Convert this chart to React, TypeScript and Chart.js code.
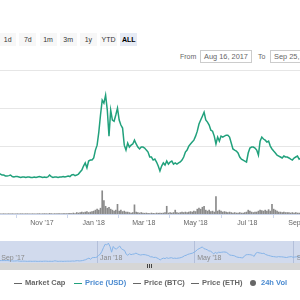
import React, { useEffect, useRef } from "react";
import { Chart, registerables } from "chart.js";

Chart.register(...registerables);

// ---- data ----
const START_DATE = "2017-09-03";
const STEP_DAYS = 2;

const priceUsd = [
  0.57, 0.57, 0.57, 0.57, 0.57, 0.57, 0.52, 0.52, 0.47, 0.47,
  0.49, 0.52, 0.44, 0.42, 0.44, 0.44, 0.42, 0.39, 0.42, 0.42,
  0.39, 0.42, 0.42, 0.39, 0.39, 0.42, 0.39, 0.42, 0.44, 0.42,
  0.39, 0.42, 0.39, 0.42, 0.52, 0.44, 0.39, 0.42, 0.42, 0.39,
  0.42, 0.42, 0.44, 0.42, 0.44, 0.47, 0.44, 0.52, 0.55, 0.49,
  0.52, 0.57, 0.68, 0.78, 0.99, 1.15, 0.89, 1.25, 1.3, 1.3,
  1.41, 1.82, 2.08, 2.76, 3.65, 4.43, 4.27, 4.69, 3.91, 2.55,
  3.91, 3.39, 3.33, 3.65, 4.01, 3.39, 3.13, 2.97, 2.08, 1.82,
  2.19, 1.98, 2.08, 2.14, 2.34, 2.14, 1.98, 1.88, 1.98, 1.98,
  1.93, 1.82, 1.72, 1.46, 1.46, 1.3, 1.35, 1.2, 0.99, 0.73,
  0.99, 1.15, 1.04, 1.25, 1.09, 1.2, 1.25, 1.09, 1.15, 1.09,
  1.15, 1.2, 1.3, 1.46, 1.72, 1.82, 2.03, 2.14, 2.24, 2.34,
  2.55, 2.81, 3.18, 3.39, 3.59, 3.8, 3.39, 3.28, 3.13, 2.86,
  2.81, 2.55, 2.14, 2.5, 2.29, 2.55, 2.5, 2.55, 2.6, 2.6,
  2.5, 2.19, 1.88, 1.82, 1.77, 1.67, 1.46, 1.35, 1.3, 1.25,
  1.2, 1.67, 1.93, 1.98, 1.98, 1.93, 1.82, 1.56, 2.29, 2.5,
  2.4, 2.34, 2.24, 2.29, 2.03, 1.88, 1.77, 1.67, 1.56, 1.51,
  1.46, 1.41, 1.51, 1.46, 1.46, 1.41, 1.35, 1.3, 1.41, 1.46,
  1.51, 1.35, 1.41, 1.46, 1.46, 1.41, 1.41,
];

const volume24h = [
  0.3, 0.2, 0.3, 0.2, 0.3, 0.3, 0.2, 0.3, 0.2, 0.3,
  0.3, 0.2, 0.3, 0.3, 0.2, 0.3, 0.2, 0.3, 0.3, 0.2,
  0.3, 0.3, 0.2, 0.3, 0.3, 0.2, 0.3, 0.3, 0.4, 0.3,
  0.3, 0.4, 0.3, 0.3, 0.6, 0.4, 0.3, 0.4, 0.3, 0.4,
  0.4, 0.3, 0.4, 0.5, 0.4, 0.5, 0.6, 0.5, 1.0, 0.5,
  1.5, 1.0, 1.5, 2.0, 1.5, 2.0, 2.5, 1.5, 2.0, 2.5,
  3, 4, 5, 4, 6, 24, 14, 8, 6, 7,
  5, 4, 3, 4, 10, 3, 4, 2.5, 3, 2,
  2, 1.5, 1, 1.5, 9.5, 2, 1.5, 1, 1.5, 1,
  0.8, 1, 0.8, 0.5, 1, 0.8, 0.5, 1, 0.8, 1,
  0.8, 1, 1.5, 8, 1, 1.5, 1, 1.5, 4, 1.5,
  1, 1.5, 2, 1.5, 2, 1.5, 2, 2.5, 2, 3,
  2.5, 5, 6, 5, 7, 8, 4, 3, 4, 2.5,
  3, 2, 18, 3, 4, 3, 2, 2.5, 2, 1.5,
  2, 1.5, 1, 1.5, 1, 1, 1.5, 1, 1, 1.5,
  2, 4, 3, 2, 1.5, 2, 2, 3, 4, 3.5,
  3, 4, 3, 4.5, 3, 10, 5, 4, 3, 2,
  2, 1.5, 2, 1.5, 1.5, 1.5, 1, 1.5, 1, 1.5,
  1, 1, 1, 1, 1, 1, 1,
];

const axisTickDates = ["2017-11-01", "2018-01-01", "2018-03-01", "2018-05-01", "2018-07-01", "2018-09-01"];
const axisTickLabels = ["Nov '17", "Jan '18", "Mar '18", "May '18", "Jul '18", "Sep '18"];
const navTickDates = ["2017-09-01", "2018-01-01", "2018-05-01", "2018-09-01"];
const navTickLabels = ["Sep '17", "Jan '18", "May '18", "Sep '18"];

const rangeButtons = ["1d", "7d", "1m", "3m", "1y", "YTD", "ALL"];
const activeButton = "ALL";
const fromDate = "Aug 16, 2017";
const toDate = "Sep 25, 2018";

const legendNames = ["Market Cap", "Price (USD)", "Price (BTC)", "Price (ETH)", "24h Vol"];
const legendActive = [false, true, false, false, true];

// ---- helpers / styling ----
const ORIGIN = Date.UTC(2017, 10, 1);
const dayOf = (s: string) => (Date.parse(s + "T00:00:00Z") - ORIGIN) / 86400000;
const days = priceUsd.map((_, i) => dayOf(START_DATE) + i * STEP_DAYS);
const axisTickDays = axisTickDates.map(dayOf);
const navTickDays = navTickDates.map(dayOf);

const VIEW_MIN = -49.4;
const VIEW_MAX = 304;
const NAV_MIN = -58.8;
const NAV_MAX = 311.6;

const FONT = "'Liberation Sans', Arial, sans-serif";
const GREEN = "#21a17c";
const BLUE_TEXT = "#4a8ad0";

export default function App() {
  const priceRef = useRef<HTMLCanvasElement>(null);
  const volRef = useRef<HTMLCanvasElement>(null);
  const navRef = useRef<HTMLCanvasElement>(null);

  useEffect(() => {
    const pricePts = days.map((d, i) => ({ x: d, y: priceUsd[i] }));
    const volPts = days.map((d, i) => ({ x: d, y: volume24h[i] }));

    const priceChart = new Chart(priceRef.current!, {
      type: "line",
      data: {
        datasets: [
          {
            data: pricePts,
            borderColor: GREEN,
            borderWidth: 1.5,
            pointRadius: 0,
            tension: 0,
            fill: false,
          },
        ],
      },
      options: {
        animation: false,
        responsive: false,
        maintainAspectRatio: false,
        layout: { padding: { top: 10, bottom: 5, left: 0, right: 0 } },
        plugins: { legend: { display: false }, tooltip: { enabled: false } },
        scales: {
          x: { type: "linear", min: VIEW_MIN, max: VIEW_MAX, display: false },
          y: {
            min: 0,
            max: 6,
            ticks: { stepSize: 2, display: false },
            grid: { color: "#e6e6e6", drawTicks: false },
            border: { display: false },
            afterFit: (s: any) => {
              s.width = 0;
            },
          },
        },
      },
    } as any);

    const volChart = new Chart(volRef.current!, {
      type: "bar",
      data: {
        datasets: [
          {
            data: volPts,
            backgroundColor: "#8a8a8a",
            barThickness: 1,
          },
        ],
      },
      options: {
        animation: false,
        responsive: false,
        maintainAspectRatio: false,
        layout: { padding: 0 },
        plugins: { legend: { display: false }, tooltip: { enabled: false } },
        scales: {
          x: {
            type: "linear",
            min: VIEW_MIN,
            max: VIEW_MAX,
            offset: false,
            grid: { drawOnChartArea: false, drawTicks: true, tickLength: 4, color: "#ccd6eb" },
            border: { color: "#ccd6eb" },
            ticks: {
              autoSkip: false,
              maxRotation: 0,
              padding: 1,
              color: "#666666",
              font: { size: 7, family: FONT },
              callback: (_v: any, i: number) => axisTickLabels[i],
            },
            afterBuildTicks: (s: any) => {
              s.ticks = axisTickDays.map((v) => ({ value: v }));
            },
            afterFit: (s: any) => {
              s.paddingLeft = 0;
              s.paddingRight = 0;
              s.height = 16;
            },
          },
          y: { display: false, min: 0, max: 30 },
        },
      },
    } as any);

    const navLabels = {
      id: "navLabels",
      afterDraw(chart: any) {
        const ctx = chart.ctx;
        const xs = chart.scales.x;
        ctx.save();
        ctx.font = `7px ${FONT}`;
        ctx.fillStyle = "#8a8a8a";
        ctx.textBaseline = "middle";
        ctx.textAlign = "left";
        navTickDays.forEach((v, i) => {
          ctx.fillText(navTickLabels[i], xs.getPixelForValue(v) + 3, 17.5);
        });
        ctx.restore();
      },
    };

    const navChart = new Chart(navRef.current!, {
      type: "line",
      data: {
        datasets: [
          {
            data: pricePts,
            borderColor: "#86b4e8",
            borderWidth: 1,
            pointRadius: 0,
            tension: 0,
            fill: false,
          },
        ],
      },
      options: {
        animation: false,
        responsive: false,
        maintainAspectRatio: false,
        layout: { padding: 0 },
        plugins: { legend: { display: false }, tooltip: { enabled: false } },
        scales: {
          x: {
            type: "linear",
            min: NAV_MIN,
            max: NAV_MAX,
            grid: { color: "#b3bfda", drawTicks: false },
            border: { display: false },
            ticks: { display: false },
            afterBuildTicks: (s: any) => {
              s.ticks = navTickDays.map((v) => ({ value: v }));
            },
            afterFit: (s: any) => {
              s.paddingLeft = 0;
              s.paddingRight = 0;
              s.height = 0;
            },
          },
          y: { display: false, min: 0, max: 5.2 },
        },
      },
      plugins: [navLabels],
    } as any);

    return () => {
      priceChart.destroy();
      volChart.destroy();
      navChart.destroy();
    };
  }, []);

  const legendLefts = [14, 74, 133, 191, 250];
  const legendTextLefts = [25, 85, 144, 202, 261];

  return (
    <div
      style={{
        position: "absolute",
        left: 0,
        top: 0,
        width: 300,
        height: 300,
        overflow: "hidden",
        background: "#ffffff",
        fontFamily: FONT,
      }}
    >
      {rangeButtons.map((b, i) => {
        const active = b === activeButton;
        return (
          <div
            key={b}
            style={{
              position: "absolute",
              left: -0.8 + i * 20.17,
              top: 33,
              width: 17,
              height: 13,
              lineHeight: "13px",
              textAlign: "center",
              fontSize: 7,
              background: active ? "#e6ebf5" : "#f7f7f7",
              color: active ? "#000" : "#333",
              fontWeight: active ? "bold" : "normal",
            }}
          >
            {b}
          </div>
        );
      })}
      <div style={{ position: "absolute", left: 180, top: 51, lineHeight: "12px", fontSize: 7, color: "#666" }}>From</div>
      <div
        style={{
          position: "absolute",
          left: 200,
          top: 50,
          width: 50,
          height: 11,
          border: "1px solid #cccccc",
          lineHeight: "11px",
          textAlign: "center",
          fontSize: 7.4,
          color: "#666",
        }}
      >
        {fromDate}
      </div>
      <div style={{ position: "absolute", left: 258, top: 51, lineHeight: "12px", fontSize: 7, color: "#666" }}>To</div>
      <div
        style={{
          position: "absolute",
          left: 270,
          top: 50,
          width: 50,
          height: 11,
          border: "1px solid #cccccc",
          lineHeight: "11px",
          textAlign: "center",
          fontSize: 7.4,
          color: "#666",
          whiteSpace: "nowrap",
        }}
      >
        {toDate}
      </div>

      <canvas ref={priceRef} width={300} height={130} style={{ position: "absolute", left: 0, top: 60, display: "block" }} />
      <canvas ref={volRef} width={300} height={45} style={{ position: "absolute", left: 0, top: 185, display: "block" }} />

      <div style={{ position: "absolute", left: 0, top: 241, width: 300, height: 22, background: "#d1daed" }} />
      <canvas ref={navRef} width={300} height={22} style={{ position: "absolute", left: 0, top: 241, display: "block" }} />
      <div style={{ position: "absolute", left: 0, top: 263, width: 300, height: 7, background: "#d6d6d6" }} />
      {[147, 149, 151].map((x) => (
        <div key={x} style={{ position: "absolute", left: x, top: 264, width: 1, height: 4, background: "#444" }} />
      ))}

      {legendNames.map((n, i) => (
        <React.Fragment key={n}>
          {i < 4 ? (
            <div
              style={{
                position: "absolute",
                left: legendLefts[i],
                top: 282.5,
                width: 8,
                height: 1.5,
                background: i === 1 ? GREEN : "#666",
              }}
            />
          ) : (
            <div
              style={{
                position: "absolute",
                left: 250,
                top: 280,
                width: 6,
                height: 6,
                borderRadius: 3,
                background: "#666",
              }}
            />
          )}
          <div
            style={{
              position: "absolute",
              left: legendTextLefts[i],
              top: 278,
              lineHeight: "10px",
              fontSize: 7.5,
              fontWeight: "bold",
              whiteSpace: "nowrap",
              color: legendActive[i] ? BLUE_TEXT : "#666",
            }}
          >
            {n}
          </div>
        </React.Fragment>
      ))}
    </div>
  );
}
